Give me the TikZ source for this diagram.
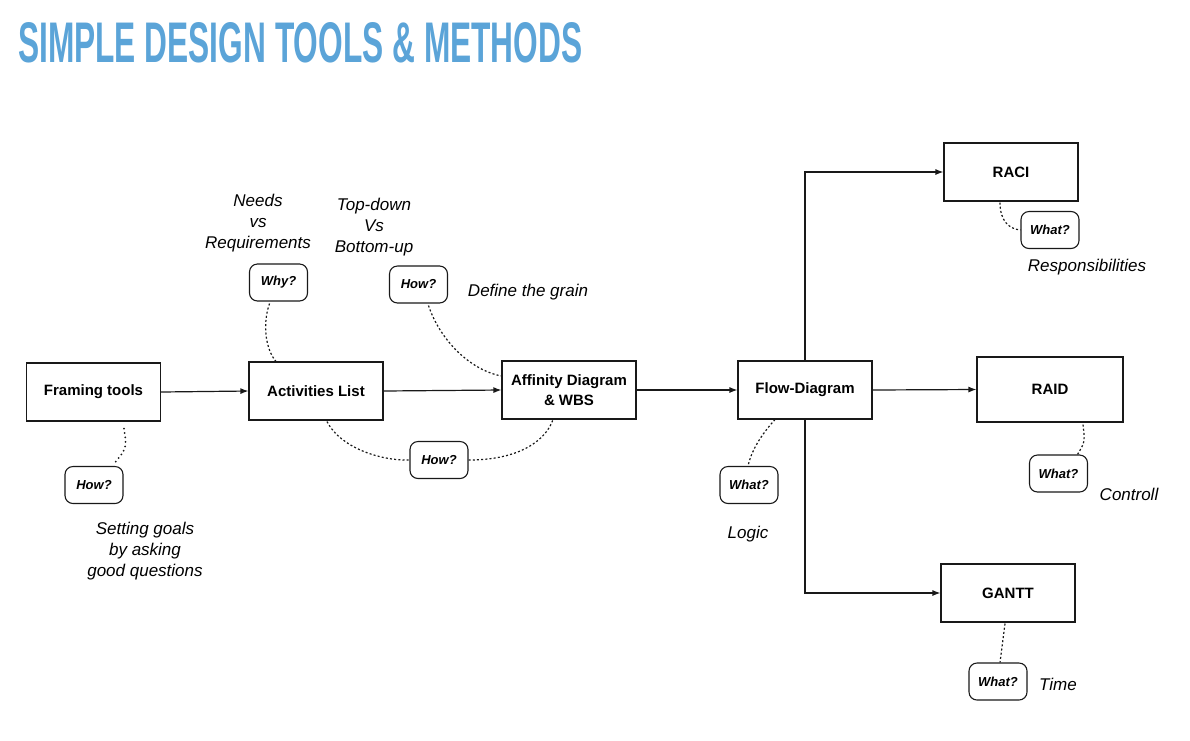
\documentclass[tikz,border=0pt]{standalone}
\usepackage{fontspec}
\setmainfont{Liberation Sans}
\usetikzlibrary{arrows.meta,calc}
\definecolor{titleblue}{RGB}{91,164,216}
\definecolor{ink}{RGB}{25,25,25}
\begin{document}
\begin{tikzpicture}[x=1pt,y=-1pt,
  box/.style={draw=ink,line width=1.1pt,minimum width=134pt,minimum height=58pt,inner sep=0pt,font=\fontsize{15}{20}\selectfont\bfseries,align=center},
  bubble/.style={draw=ink,line width=1.1pt,rounded corners=8pt,minimum width=58pt,minimum height=37pt,inner sep=0pt,font=\fontsize{13}{15}\selectfont\bfseries\itshape},
  note/.style={font=\fontsize{17}{21}\selectfont\itshape,align=center,inner sep=0pt},
  arr/.style={draw=ink,line width=1.2pt,-{Latex[length=8pt,width=6pt]}},
  dots/.style={draw=ink,line width=1.2pt,dash pattern=on 2pt off 2.2pt},
  rdots/.style={draw=ink,line width=2pt,line cap=round,dash pattern=on 0pt off 4.5pt}]
\useasboundingbox (0,0) rectangle (1190,740);
\fill[white] (0,0) rectangle (1190,740);

\node[anchor=west,inner sep=0pt,text=titleblue] (title) at (18,42.5)
  {\resizebox{564pt}{40pt}{\bfseries SIMPLE DESIGN TOOLS \& METHODS}};

% main boxes
\node[box] (fram) at (93.5,392) {\raisebox{-2pt}{Framing tools}};
\node[box] (act) at (316,391) {\raisebox{-2pt}{Activities List}};
\node[box] (aff) at (569,390) {Affinity Diagram\\\& WBS};
\node[box] (flow) at (805,390) {\raisebox{-2pt}{Flow-Diagram}};
\node[box,minimum width=146pt,minimum height=65pt] (raid) at (1050,389.5) {\raisebox{-2pt}{RAID}};
\node[box] (raci) at (1011,172) {\raisebox{-2pt}{RACI}};
\node[box] (gantt) at (1008,593) {\raisebox{-2pt}{GANTT}};

% bubbles
\node[bubble] (why) at (278.5,282.5) {Why?};
\node[bubble] (hw2) at (418.5,284.5) {How?};
\node[bubble] (hw3) at (439,460) {How?};
\node[bubble] (hw1) at (94,485) {How?};
\node[bubble] (wh1) at (1050,230) {What?};
\node[bubble] (wh2) at (749,485) {What?};
\node[bubble] (wh3) at (1058.5,473.5) {What?};
\node[bubble] (wh4) at (998,681.5) {What?};

% notes
\node[note] (n1) at (258,223) {Needs\\vs\\Requirements};
\node[note] (n2) at (374,227) {Top-down\\Vs\\Bottom-up};
\node[note] (n3) at (528,292) {Define the grain};
\node[note] (n4) at (145,551) {Setting goals\\by asking\\good questions};
\node[note] (n5) at (1087,267) {Responsibilities};
\node[note] (n6) at (1129,494) {Controll};
\node[note] (n7) at (748,534) {Logic};
\node[note] (n8) at (1058,684) {Time};

% arrows
\draw[arr] (fram.east) -- (act.west);
\draw[arr] (act.east) -- (aff.west);
\draw[arr] (aff.east) -- (flow.west);
\draw[arr] (flow.east) -- (raid.west);
\draw[arr] (flow.north) |- (raci.west);
\draw[arr] (flow.south) |- (gantt.west);

% dotted links
\draw[rdots] ($(fram.south)+(30.5,7)$) .. controls (127,448) .. ($(hw1.north)+(19,-1)$);
\draw[dots] ($(why.south)+(-9,2)$) .. controls (262,325) and (266,350) .. ($(act.north)+(-40,0)$);
\draw[dots] ($(hw2.south)+(10,2)$) .. controls (440,340) and (470,370) .. ($(aff.west)+(0,-14)$);
\draw[dots] ($(act.south)+(11,1)$) .. controls (342,450) and (385,461) .. (hw3.west);
\draw[dots] (hw3.east) .. controls (520,460) and (546,440) .. ($(aff.south)+(-16,0)$);
\draw[dots] ($(raci.south)+(-11,1)$) .. controls (1000,222) and (1010,229) .. (wh1.west);
\draw[dots] ($(flow.south)+(-30,0)$) .. controls (760,436) and (751,452) .. ($(wh2.north)+(-1,0)$);
\draw[dots] ($(raid.south)+(33,2)$) .. controls (1085,442) .. ($(wh3.north)+(19,0)$);
\draw[dots] ($(gantt.south)+(-3,1)$) -- ($(wh4.north)+(2,0)$);
\end{tikzpicture}
\end{document}
